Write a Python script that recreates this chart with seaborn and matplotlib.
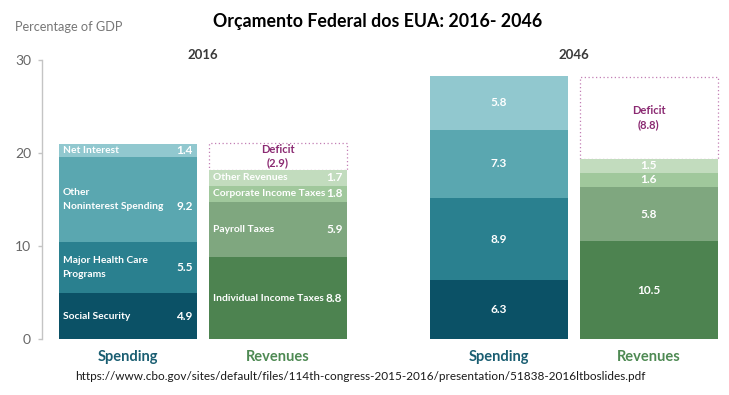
import numpy as np
import pandas as pd
import matplotlib
matplotlib.use("Agg")
import matplotlib.pyplot as plt
import seaborn as sns

# data (percentage of GDP)
sides = ["Spending", "Revenues"]
years = ["2016", "2046"]

spend_2016 = [4.9, 5.5, 9.2, 1.4]
rev_2016 = [8.8, 5.9, 1.8, 1.7]
spend_2046 = [6.3, 8.9, 7.3, 5.8]
rev_2046 = [10.5, 5.8, 1.6, 1.5]
deficits = [2.9, 8.8]

spend_labels = ["Social Security", "Major Health Care\nPrograms",
                "Other\nNoninterest Spending", "Net Interest"]
rev_labels = ["Individual Income Taxes", "Payroll Taxes",
              "Corporate Income Taxes", "Other Revenues"]

y_ticks = [0, 10, 20, 30]

spend_colors = ["#0b5166", "#2a808f", "#5aa7b0", "#91c8cf"]
rev_colors = ["#4d8350", "#7fa77f", "#a0c89c", "#c2dcbe"]
purple = "#c27fb4"
purple_text = "#8b2a72"
side_colors = ["#1a5e72", "#4e8a53"]

sns.set_style("white")
plt.rcParams['font.family'] = ['Lato', 'DejaVu Sans']

W, H = 729, 395
fig = plt.figure(figsize=(W / 100, H / 100), dpi=100, facecolor="white")
ax1 = fig.add_axes([52.5 / W, 56 / H, 300 / W, 279 / H])
ax2 = fig.add_axes([423.5 / W, 56 / H, 300 / W, 279 / H])

BAR_W = 0.92
half = BAR_W / 2
inset = 0.027


def draw_year(ax, year, spend, rev, deficit, full_labels):
    spend_cum = np.cumsum(spend)
    rev_cum = np.cumsum(rev)

    # deficit box sits on top of the revenues
    sns.barplot(x=["Revenues"], y=[deficit], order=sides, color=purple,
                fill=False, width=BAR_W, bottom=rev_cum[-1],
                linestyle=(0, (1, 2)), linewidth=0.9, ax=ax)

    # stacked bars: draw cumulative totals from the top layer down
    for k in range(len(spend) - 1, -1, -1):
        df = pd.DataFrame({"side": sides, "value": [spend_cum[k], rev_cum[k]]})
        sns.barplot(data=df, x="side", y="value", hue="side", order=sides,
                    hue_order=sides, palette=[spend_colors[k], rev_colors[k]],
                    saturation=1, width=BAR_W, linewidth=0, legend=False, ax=ax)

    lab_kw = dict(color="white", fontsize=7.4, fontweight="bold", va="center")
    val_kw = dict(color="white", fontsize=8.5, fontweight="bold", va="center")
    for pos, vals, cum, labels in [(0, spend, spend_cum, spend_labels),
                                   (1, rev, rev_cum, rev_labels)]:
        for v, c, lab in zip(vals, cum, labels):
            yc = c - v / 2
            if full_labels:
                ax.text(pos - half + inset, yc, lab, ha="left",
                        linespacing=1.75, **lab_kw)
                yv = yc - 0.8 if lab.startswith("Other\n") else yc
                ax.text(pos + half - inset, yv, f"{v:.1f}", ha="right", **val_kw)
            else:
                ax.text(pos, yc, f"{v:.1f}", ha="center", **val_kw)

    ax.text(1, rev_cum[-1] + deficit / 2, f"Deficit\n({deficit:.1f})",
            ha="center", va="center", color=purple_text, fontsize=8,
            fontweight="bold", linespacing=1.3)

    ax.text(0.5, 1.018, year, transform=ax.transAxes, ha="center",
            va="center", fontsize=9.5, fontweight="bold", color="#3a3a3a")

    ax.set_ylim(0, 30)
    ax.set_xlim(-0.5, 1.5)
    ax.set_xlabel("")
    ax.set_ylabel("")
    ax.tick_params(axis="x", length=0, pad=8)
    for lbl, col in zip(ax.get_xticklabels(), side_colors):
        lbl.set_color(col)
        lbl.set_fontsize(10.5)
        lbl.set_fontweight("bold")


draw_year(ax1, years[0], spend_2016, rev_2016, deficits[0], True)
draw_year(ax2, years[1], spend_2046, rev_2046, deficits[1], False)

# y axis only on the left panel
for s in ["top", "right", "bottom"]:
    ax1.spines[s].set_visible(False)
ax1.spines["left"].set_position(("outward", 7.5))
ax1.spines["left"].set_color("#c4c4c4")
ax1.spines["left"].set_linewidth(1)
ax1.set_yticks(y_ticks)
ax1.tick_params(axis="y", length=3, width=1, color="#c4c4c4", pad=5,
                labelsize=10, labelcolor="#666666", left=True)

for s in ax2.spines.values():
    s.set_visible(False)
ax2.set_yticks([])

fig.text(15 / W, 1 - 27 / H, "Percentage of GDP", ha="left", va="center",
         fontsize=9.2, color="#777777")
fig.text(378 / W, 1 - 21 / H, "Orçamento Federal dos EUA: 2016- 2046",
         ha="center", va="center", fontsize=12.8, fontweight="bold", color="black")
fig.text(360 / W, 1 - 377 / H,
         "https://www.cbo.gov/sites/default/files/114th-congress-2015-2016/presentation/51838-2016ltboslides.pdf",
         ha="center", va="center", fontsize=8.5, color="#1a1a1a")

fig.savefig("out.png", dpi=100, facecolor="white")
